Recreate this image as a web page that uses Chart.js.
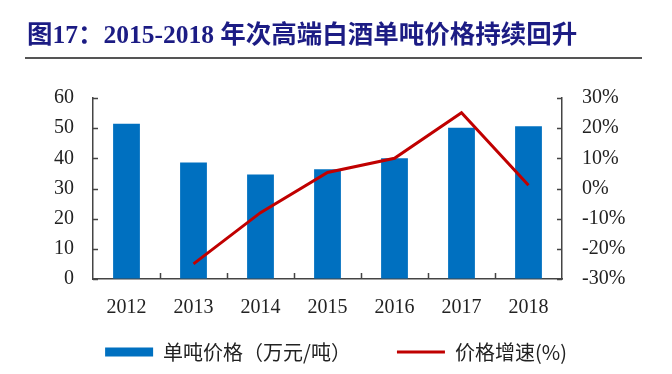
<!DOCTYPE html>
<html>
<head>
<meta charset="utf-8">
<script src="https://cdn.jsdelivr.net/npm/chart.js@4/dist/chart.umd.min.js"></script>
<style>
  html, body { margin: 0; padding: 0; background: #fff; }
  #wrap { position: relative; width: 672px; height: 374px; }
  #title {
    position: absolute; left: 27px; top: 21px;
    font: bold 25.5px "Liberation Serif", "Noto Sans CJK SC", serif;
    line-height: 28px; color: #1c1c84; white-space: nowrap;
  }
  #rule { position: absolute; left: 25px; top: 57px; width: 617px; height: 2px; background: #555; }
  canvas { position: absolute; left: 0; top: 0; }
</style>
</head>
<body>
<div id="wrap">
  <canvas id="chart" width="672" height="374"></canvas>
  <div id="title">图17：2015-2018 年次高端白酒单吨价格持续回升</div>
  <div id="rule"></div>
</div>
<script>
const years = ['2012', '2013', '2014', '2015', '2016', '2017', '2018'];
const pricePerTon = [51.5, 38.6, 34.6, 36.4, 40.0, 50.1, 50.6];   // 万元/吨
const priceGrowth = [null, -25.0, -8.0, 5.3, 10.0, 25.1, 1.1];    // %

const tickFont = { family: '"Liberation Serif", "Times New Roman", serif', size: 20 };

// ticks on all three axes point into the plot area
const innerTicks = {
  id: 'innerTicks',
  afterDraw(chart) {
    const ctx = chart.ctx;
    const { x, y, y1 } = chart.scales;
    const area = chart.chartArea;
    ctx.save();
    ctx.strokeStyle = '#444';
    ctx.lineWidth = 1.5;
    ctx.beginPath();
    y.ticks.forEach((t, i) => {
      const py = Math.round(y.getPixelForTick(i)) + 0.5;
      ctx.moveTo(area.left, py);
      ctx.lineTo(area.left + 5, py);
    });
    y1.ticks.forEach((t, i) => {
      const py = Math.round(y1.getPixelForTick(i)) + 0.5;
      ctx.moveTo(area.right, py);
      ctx.lineTo(area.right - 5, py);
    });
    for (let i = 1; i < x.ticks.length; i++) {
      const px = Math.round((x.getPixelForTick(i - 1) + x.getPixelForTick(i)) / 2) + 0.5;
      ctx.moveTo(px, area.bottom);
      ctx.lineTo(px, area.bottom - 6);
    }
    ctx.stroke();
    ctx.restore();
  }
};

// the legend's wide item gap also pads it vertically, so pull it up under the x labels
const legendUp = {
  id: 'legendUp',
  afterLayout(chart) {
    const lg = chart.legend;
    const h = lg.bottom - lg.top;
    lg.top = chart.chartArea.bottom + 17;
    lg.bottom = lg.top + h;
  }
};

new Chart(document.getElementById('chart'), {
  type: 'bar',
  data: {
    labels: years,
    datasets: [
      {
        type: 'bar',
        label: '单吨价格（万元/吨）',
        data: pricePerTon,
        backgroundColor: '#0070C0',
        borderWidth: 0,
        barPercentage: 0.4,
        categoryPercentage: 1,
        pointStyle: 'rect',
        yAxisID: 'y',
        order: 1
      },
      {
        type: 'line',
        label: '价格增速(%)',
        data: priceGrowth,
        borderColor: '#C00000',
        backgroundColor: '#C00000',
        borderWidth: 3,
        pointRadius: 0,
        tension: 0,
        pointStyle: 'line',
        yAxisID: 'y1',
        order: 0
      }
    ]
  },
  options: {
    responsive: false,
    animation: false,
    layout: { padding: { top: 98, left: 0, right: 0, bottom: -23 } },
    plugins: {
      tooltip: { enabled: false },
      legend: {
        position: 'bottom',
        labels: {
          usePointStyle: true,
          pointStyleWidth: 48,
          boxHeight: 9,
          padding: 46,
          color: '#222',
          font: { family: '"Noto Sans CJK SC", sans-serif', size: 20 },
          sort: (a, b) => a.datasetIndex - b.datasetIndex
        }
      }
    },
    scales: {
      x: {
        offset: true,
        grid: { display: true, drawOnChartArea: false, drawTicks: false },
        border: { display: true, color: '#444', width: 1.5 },
        ticks: { color: '#222', font: tickFont, padding: 17, maxRotation: 0 },
        afterFit: (s) => { s.height = 42; }
      },
      y: {
        position: 'left',
        min: 0, max: 60,
        ticks: { stepSize: 10, color: '#222', font: tickFont, padding: 19 },
        grid: { display: true, drawOnChartArea: false, drawTicks: false },
        border: { display: true, color: '#444', width: 1.5 },
        afterFit: (s) => { s.width = 93; }
      },
      y1: {
        position: 'right',
        min: -30, max: 30,
        ticks: { stepSize: 10, color: '#222', font: tickFont, padding: 20, callback: (v) => v + '%' },
        grid: { display: true, drawOnChartArea: false, drawTicks: false },
        border: { display: true, color: '#444', width: 1.5 },
        afterFit: (s) => { s.width = 110; }
      }
    }
  },
  plugins: [innerTicks, legendUp]
});
</script>
</body>
</html>
